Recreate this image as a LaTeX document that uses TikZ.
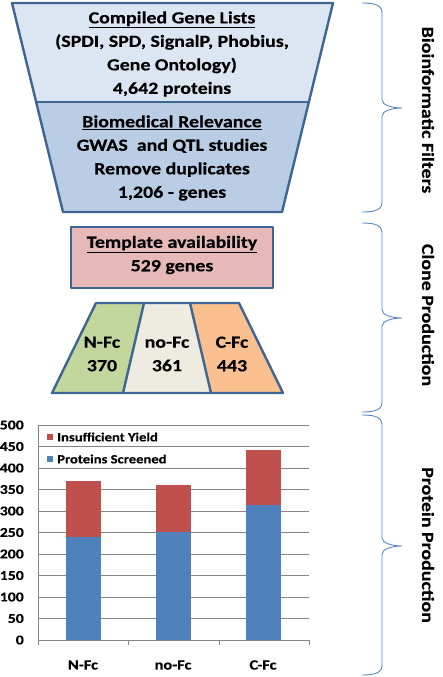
\documentclass[tikz,border=0pt]{standalone}
\usepackage{fontspec}
\setmainfont{Carlito}[FakeStretch=1.17, BoldFeatures={FakeBold=0.4}]
\definecolor{edgeblue}{HTML}{3F6592}
\definecolor{toplight}{HTML}{DCE6F2}
\definecolor{topdark}{HTML}{B9CDE5}
\definecolor{pinkbox}{HTML}{E6B9B8}
\definecolor{greenfc}{HTML}{C3D69B}
\definecolor{greyfc}{HTML}{EEECE1}
\definecolor{orangefc}{HTML}{FAC090}
\definecolor{barblue}{HTML}{4F81BD}
\definecolor{barred}{HTML}{C0504D}
\definecolor{gridgrey}{HTML}{868686}
\definecolor{bracecol}{HTML}{5B87C0}
\tikzset{
  shapeline/.style={draw=edgeblue, line width=2.4pt, line join=round},
  bigtext/.style={font=\bfseries\fontsize{17}{23.5}\selectfont, align=center, inner sep=0pt},
  sidelabel/.style={font=\bfseries\fontsize{17}{20}\selectfont, rotate=-90, inner sep=0pt},
  ticklab/.style={font=\bfseries\fontsize{13.5}{15}\selectfont, anchor=east, inner sep=0pt},
  catlab/.style={font=\bfseries\fontsize{14}{15}\selectfont, inner sep=0pt},
  leglab/.style={font=\bfseries\fontsize{12.5}{14}\selectfont, anchor=west, inner sep=0pt},
  gridline/.style={draw=gridgrey, line width=0.8pt},
  bracestyle/.style={draw=bracecol, line width=0.9pt},
}
\newcommand\mybrace[3]{%
  \draw[bracestyle] (362,#1) .. controls (377,#1) and (382,#1+3) .. (382,#1+10)
    -- (382,#3-8) .. controls (382,#3-3) and (392,#3) .. (402,#3)
    .. controls (392,#3) and (382,#3+3) .. (382,#3+8)
    -- (382,#2-10) .. controls (382,#2-3) and (377,#2) .. (362,#2);}
\begin{document}
\begin{tikzpicture}[x=1pt,y=-1pt]
\useasboundingbox (0,0) rectangle (442,677);
% top funnel
\fill[toplight] (12,3) -- (333,3) -- (309,102) -- (36,102) -- cycle;
\fill[topdark] (36,102) -- (309,102) -- (282,212) -- (63,212) -- cycle;
\draw[shapeline] (12,3) -- (333,3) -- (282,212) -- (63,212) -- cycle;
\draw[shapeline] (36,102) -- (309,102);
\node[bigtext] (compiled) at (172,54) {\underline{Compiled Gene Lists}\\(SPDI, SPD, SignalP, Phobius,\\Gene Ontology)\\4,642 proteins};
\node[bigtext] (biomed) at (172,158) {\underline{Biomedical Relevance}\\GWAS\ \ and QTL studies\\Remove duplicates\\1,206 - genes};
% template box
\draw[shapeline, fill=pinkbox] (71,227) rectangle (273,288);
\node[bigtext] (template) at (172,255) {\underline{Template availability}\\529 genes};
% bottom trapezoid
\fill[greenfc] (96,303) -- (144,303) -- (123,393) -- (52,393) -- cycle;
\fill[greyfc] (144,303) -- (190,303) -- (211,393) -- (123,393) -- cycle;
\fill[orangefc] (190,303) -- (239,303) -- (283,393) -- (211,393) -- cycle;
\draw[shapeline] (96,303) -- (239,303) -- (283,393) -- (52,393) -- cycle;
\draw[shapeline] (144,303) -- (123,393);
\draw[shapeline] (190,303) -- (211,393);
\node[bigtext] (nfc) at (102,354) {N-Fc\\370};
\node[bigtext] (nofc) at (167,354) {no-Fc\\361};
\node[bigtext] (cfc) at (232,354) {C-Fc\\443};
% chart
\foreach \v in {50,100,...,500} {
  \draw[gridline] (38,640-0.43*\v) -- (309,640-0.43*\v);
}
\foreach \v in {0,50,...,500} {
  \node[ticklab] (t\v) at (24,640-0.43*\v) {\v};
}
% bars
\fill[barblue] (66,640) rectangle (101,640-0.43*240);
\fill[barred] (66,640-0.43*240) rectangle (101,640-0.43*370);
\fill[barblue] (156,640) rectangle (191,640-0.43*252);
\fill[barred] (156,640-0.43*252) rectangle (191,640-0.43*361);
\fill[barblue] (246,640) rectangle (281,640-0.43*315);
\fill[barred] (246,640-0.43*315) rectangle (281,640-0.43*443);
\draw[gridline] (38,640) -- (309,640);
\draw[gridline] (38,425) -- (38,640);
\foreach \x in {38,128,219,309} { \draw[gridline] (\x,640) -- (\x,645); }
\node[catlab] (cn) at (83,665) {N-Fc};
\node[catlab] (cno) at (173,665) {no-Fc};
\node[catlab] (cc) at (263,665) {C-Fc};
% legend
\fill[barred] (47,434) rectangle (53,440);
\node[leglab] (legred) at (57,437) {Insufficient Yield};
\fill[barblue] (47,456) rectangle (53,462);
\node[leglab] (legblue) at (57,459) {Proteins Screened};
% braces
\mybrace{3}{212}{108}
\mybrace{223}{412}{318}
\mybrace{415}{675}{546}
\node[sidelabel] (bio) at (428,110) {Bioinformatic Filters};
\node[sidelabel] (clone) at (428,315) {Clone Production};
\node[sidelabel] (prot) at (428,545) {Protein Production};
\end{tikzpicture}
\end{document}
